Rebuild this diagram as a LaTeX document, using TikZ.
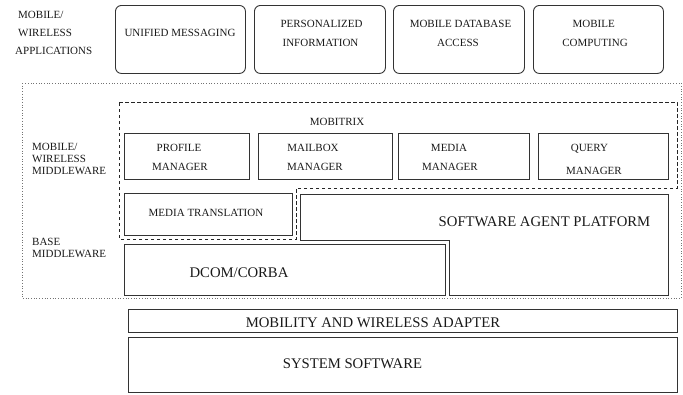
\documentclass[tikz,border=0pt]{standalone}
\usepackage{fontspec}
\setmainfont{Liberation Serif}
\begin{document}
\begin{tikzpicture}[x=1pt,y=-1pt,
  box/.style={draw=black!80, line width=0.9pt, inner sep=0, anchor=north west},
  rbox/.style={box, rounded corners=6pt},
  sm/.style={font=\fontsize{11}{12}\selectfont, inner sep=0, anchor=base, yshift=-3.7pt, text=black!90},
  smL/.style={sm, anchor=base west},
  lg/.style={font=\fontsize{14.7}{16}\selectfont, inner sep=0, anchor=base, yshift=-4.9pt, text=black!90},
  dotbox/.style={draw=black!55, dotted, line width=0.7pt},
  dashbox/.style={draw=black!85, dash pattern=on 3.5pt off 2.5pt, line width=0.8pt}]
\useasboundingbox (0,0) rectangle (683,394);

% application layer
\node[rbox, minimum width=130pt, minimum height=68pt] (ua) at (115,5) {};
\node[rbox, minimum width=131pt, minimum height=68pt] (ub) at (254,5) {};
\node[rbox, minimum width=131pt, minimum height=68pt] (uc) at (393,5) {};
\node[rbox, minimum width=130pt, minimum height=68pt] (ud) at (533,5) {};

\node[smL] (la1) at (18,15) {MOBILE/};
\node[smL] (la2) at (18,33) {WIRELESS};
\node[smL] (la3) at (15,51) {APPLICATIONS};

\node[sm] (ta) at (180,33) {UNIFIED MESSAGING};
\node[sm] (tb1) at (321.5,24) {PERSONALIZED};
\node[sm] (tb2) at (320.5,43) {INFORMATION};
\node[sm] (tc1) at (460.5,24) {MOBILE DATABASE};
\node[sm] (tc2) at (458,43) {ACCESS};
\node[sm] (td1) at (593.7,24) {MOBILE};
\node[sm] (td2) at (595,43) {COMPUTING};

% middleware region
\draw[dotbox] (22,83) rectangle (681,298);
\draw[dashbox] (119,102) -- (677,102) -- (677,188) -- (296,188) -- (296,239) -- (119,239) -- cycle;

\node[smL] (lm1) at (32,147) {MOBILE/};
\node[smL] (lm2) at (32,159) {WIRELESS};
\node[smL] (lm3) at (32,171) {MIDDLEWARE};
\node[smL] (lb1) at (32,242) {BASE};
\node[smL] (lb2) at (32,254) {MIDDLEWARE};

\node[sm] (mobitrix) at (337,122) {MOBITRIX};

\node[box, minimum width=125pt, minimum height=46pt] (pm) at (124,133) {};
\node[box, minimum width=134pt, minimum height=46pt] (mm) at (258,133) {};
\node[box, minimum width=131pt, minimum height=46pt] (me) at (398,133) {};
\node[box, minimum width=130pt, minimum height=46pt] (qm) at (538,133) {};

\node[sm] (pm1) at (179,148) {PROFILE};
\node[sm] (pm2) at (180,167) {MANAGER};
\node[sm] (mm1) at (313,148) {MAILBOX};
\node[sm] (mm2) at (315,167) {MANAGER};
\node[sm] (me1) at (449,148) {MEDIA};
\node[sm] (me2) at (450,167) {MANAGER};
\node[sm] (qm1) at (589.5,148) {QUERY};
\node[sm] (qm2) at (594,171) {MANAGER};

\node[box, minimum width=168pt, minimum height=42pt] (mt) at (124,193) {};
\node[sm] (mtt) at (206,213) {MEDIA TRANSLATION};

\draw[draw=black!80, line width=0.9pt] (300,194) -- (668,194) -- (668,295) -- (449,295) -- (449,240) -- (300,240) -- cycle;
\node[lg] (sap) at (544.5,222) {SOFTWARE AGENT PLATFORM};

\node[box, minimum width=321pt, minimum height=51pt] (dc) at (124,244) {};
\node[lg] (dct) at (239,273) {DCOM/CORBA};

% lower layers
\node[box, minimum width=549pt, minimum height=23pt] (mw) at (128,309) {};
\node[lg] (mwt) at (373,323) {MOBILITY AND WIRELESS ADAPTER};
\node[box, minimum width=549pt, minimum height=55pt] (ss) at (128,337) {};
\node[lg] (sst) at (352.5,364) {SYSTEM SOFTWARE};
\end{tikzpicture}
\end{document}
